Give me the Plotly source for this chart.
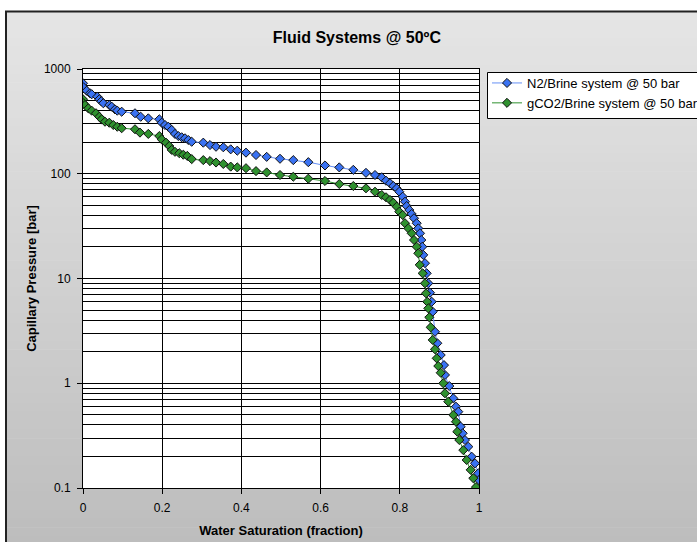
import plotly.graph_objects as go

# ---- data ----
sw_n2 = [0.0, 0.001, 0.0093, 0.0177, 0.022, 0.0361, 0.0412, 0.0462, 0.0513, 0.0664,
         0.0725, 0.0808, 0.0866, 0.0977, 0.1313, 0.1457, 0.1649, 0.1927, 0.1987, 0.2071,
         0.2154, 0.224, 0.2323, 0.2407, 0.2492, 0.2576, 0.2659, 0.2745, 0.3038, 0.3207,
         0.3359, 0.3543, 0.373, 0.3896, 0.4116, 0.4369, 0.4639, 0.4975, 0.531, 0.569,
         0.6111, 0.6472, 0.6826, 0.7146, 0.7374, 0.7543, 0.7652, 0.7753, 0.7836, 0.7922,
         0.7987, 0.8073, 0.8131, 0.8174, 0.824, 0.83, 0.8359, 0.8427, 0.8467, 0.851,
         0.8543, 0.8568, 0.8593, 0.8636, 0.8679, 0.872, 0.8763, 0.8806, 0.8831, 0.8889,
         0.8947, 0.9033, 0.9116, 0.9141, 0.925, 0.9351, 0.9419, 0.9477, 0.9538, 0.9588,
         0.9646, 0.973, 0.9816, 0.9899, 0.9982, 1.0]
pc_n2 = [730, 669, 620, 586, 574, 544, 514, 492, 471, 453,
         437, 412, 400, 391, 378, 350, 338, 331, 307, 292,
         281, 262, 240, 229, 223, 218, 210, 202, 198, 188,
         181, 179, 171, 166, 159, 151, 145, 139, 135, 129,
         120, 115, 109, 102, 97.3, 92.5, 85.8, 81.1, 76.4, 72.6,
         67.4, 60.4, 54.1, 49.2, 45.1, 41.3, 37.6, 33.7, 30.1, 27.0,
         23.3, 20.1, 16.8, 14.0, 11.2, 9.0, 7.32, 6.00, 4.82, 3.10,
         2.41, 1.86, 1.49, 1.20, 0.941, 0.718, 0.597, 0.535, 0.385, 0.333,
         0.287, 0.248, 0.199, 0.172, 0.138, 0.119]

sw_co2 = [0.0, 0.001, 0.0051, 0.0134, 0.022, 0.0328, 0.0412, 0.0472, 0.0556, 0.0664,
          0.0765, 0.0866, 0.0977, 0.1313, 0.1439, 0.1649, 0.1927, 0.1987, 0.2096, 0.2179,
          0.224, 0.2323, 0.2432, 0.2533, 0.2634, 0.2745, 0.3038, 0.3207, 0.3359, 0.3543,
          0.373, 0.3896, 0.4116, 0.4369, 0.4639, 0.4975, 0.531, 0.569, 0.6111, 0.6472,
          0.6826, 0.7146, 0.7374, 0.7543, 0.7652, 0.7753, 0.7836, 0.7922, 0.7987, 0.8073,
          0.8131, 0.8215, 0.83, 0.8359, 0.8427, 0.8467, 0.8503, 0.8578, 0.8636, 0.8662,
          0.8694, 0.872, 0.8745, 0.878, 0.8831, 0.8889, 0.8932, 0.8972, 0.9033, 0.9098,
          0.9141, 0.9225, 0.9351, 0.9419, 0.9452, 0.9503, 0.9604, 0.9689, 0.979, 0.9856,
          0.9924]
pc_co2 = [514, 471, 453, 421, 400, 378, 350, 331, 314, 307,
          292, 281, 272, 266, 247, 240, 229, 213, 198, 184,
          169, 162, 157, 152, 148, 138, 135, 132, 128, 124,
          117, 115, 113, 106, 103, 97.3, 93.7, 89.7, 85.3, 79.8,
          76.4, 72.6, 67.4, 62.7, 59.6, 56.2, 52.9, 48.5, 43.4, 40.4,
          33.7, 30.1, 27.0, 23.3, 20.1, 17.4, 13.5, 11.2, 9.0, 7.22,
          6.00, 5.19, 4.26, 3.42, 2.59, 2.11, 1.73, 1.46, 1.26, 1.00,
          0.802, 0.667, 0.498, 0.429, 0.345, 0.287, 0.230, 0.185, 0.149, 0.124,
          0.102]

series_names = ["N2/Brine system @ 50 bar", "gCO2/Brine system @ 50 bar"]
title_text = "Fluid Systems @ 50ºC"
x_title = "Water Saturation (fraction)"
y_title = "Capillary Pressure [bar]"
x_ticks = [0, 0.2, 0.4, 0.6, 0.8, 1]
x_tick_labels = ["0", "0.2", "0.4", "0.6", "0.8", "1"]
y_ticks = [0.1, 1, 10, 100, 1000]
y_tick_labels = ["0.1", "1", "10", "100", "1000"]

# ---- layout geometry (pixels) ----
W, H = 697, 542
L, R, T, B = 83, 479, 69, 488
FONT = "Liberation Sans, Arial, sans-serif"


def px_x(px):
    return (px - L) / (R - L)


def px_y(py):
    return (B - py) / (B - T)


fig = go.Figure()

fig.add_trace(go.Scatter(
    x=sw_n2, y=pc_n2, name=series_names[0], mode="lines+markers",
    line=dict(color="#6690f5", width=1),
    marker=dict(symbol="diamond", size=7, color="#3a72f2",
                line=dict(color="#111111", width=1)),
))
fig.add_trace(go.Scatter(
    x=sw_co2, y=pc_co2, name=series_names[1], mode="lines+markers",
    line=dict(color="#2f912f", width=1),
    marker=dict(symbol="diamond", size=7, color="#2f912f",
                line=dict(color="#111111", width=1)),
))

# background gradient (chart area) and frame
shapes = []
top_px, bot_px = 11, 545
n = 60
c0, c1 = 0xe5, 0xbd
for i in range(n):
    y0 = top_px + (bot_px - top_px) * i / n
    y1 = top_px + (bot_px - top_px) * (i + 1) / n + 0.6
    c = round(c0 + (c1 - c0) * i / (n - 1))
    col = f"rgb({c},{c},{c})"
    shapes.append(dict(type="rect", xref="paper", yref="paper", layer="below",
                       x0=px_x(6), x1=px_x(705), y0=px_y(y0), y1=px_y(y1),
                       fillcolor=col, line=dict(width=0)))
# plot area white
shapes.append(dict(type="rect", xref="paper", yref="paper", layer="below",
                   x0=0, x1=1, y0=0, y1=1, fillcolor="white", line=dict(width=0)))
# legend box (extends past the right edge, as in the reference)
shapes.append(dict(type="rect", xref="paper", yref="paper", layer="below",
                   x0=px_x(487.5), x1=px_x(760), y0=px_y(118.5), y1=px_y(72.5),
                   fillcolor="white", line=dict(color="black", width=1)))
# chart frame
shapes.append(dict(type="rect", xref="paper", yref="paper", layer="below",
                   x0=px_x(6), x1=px_x(720), y0=px_y(570), y1=px_y(11.5),
                   fillcolor="rgba(0,0,0,0)", line=dict(color="#222222", width=2)))

fig.update_layout(
    width=W, height=H,
    margin=dict(l=L, r=W - R, t=T, b=H - B, pad=0, autoexpand=False),
    paper_bgcolor="white",
    plot_bgcolor="rgba(0,0,0,0)",
    font=dict(family=FONT, size=12, color="black"),
    title=dict(text=f"<b>{title_text}</b>", x=0.512, xref="container", xanchor="center",
               y=1 - 37 / H, yref="container", yanchor="middle",
               font=dict(family=FONT, size=16, color="black")),
    showlegend=True,
    legend=dict(x=px_x(487), y=px_y(68), xanchor="left", yanchor="top",
                bgcolor="rgba(0,0,0,0)", borderwidth=0,
                font=dict(family=FONT, size=13, color="black"),
                tracegroupgap=0, itemwidth=30),
    shapes=shapes,
)

fig.update_xaxes(
    range=[0, 1], tickvals=x_ticks, ticktext=x_tick_labels,
    showgrid=True, gridcolor="black", gridwidth=1,
    showline=True, linecolor="black", linewidth=1, mirror=True,
    ticks="outside", ticklen=5, tickcolor="black", ticklabelstandoff=4,
    zeroline=False,
    title=dict(text=f"<b>{x_title}</b>", font=dict(family=FONT, size=13), standoff=11),
)
fig.update_yaxes(
    type="log", range=[-1, 3], tickvals=y_ticks, ticktext=y_tick_labels,
    showgrid=True, gridcolor="black", gridwidth=1,
    showline=True, linecolor="black", linewidth=1, mirror=True,
    ticks="outside", ticklen=5, tickcolor="black", ticklabelstandoff=4,
    minor=dict(dtick="D1", showgrid=True, gridcolor="black", gridwidth=1, ticks=""),
    zeroline=False,
    title=dict(text=f"<b>{y_title}</b>", font=dict(family=FONT, size=13), standoff=4),
)

fig.write_html("out.html")
